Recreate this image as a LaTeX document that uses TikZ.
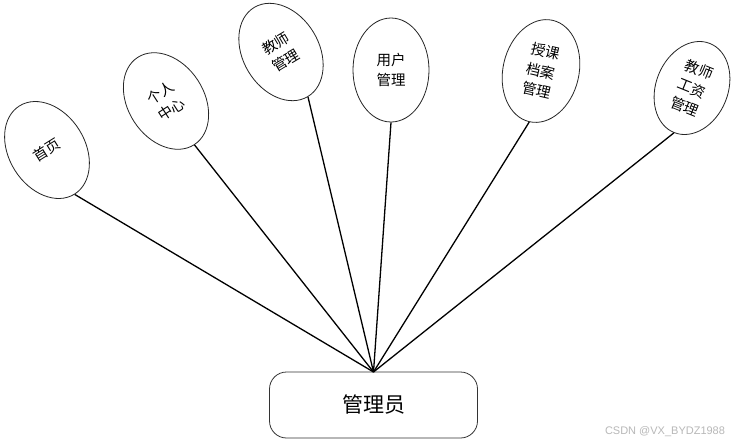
\documentclass[tikz,border=0pt]{standalone}
\usepackage{fontspec}
\setmainfont{Noto Sans CJK SC}
\newfontfamily\wmfont{Liberation Sans}
\usetikzlibrary{shapes.geometric}
\begin{document}
\begin{tikzpicture}[x=1pt,y=-1pt,
  func/.style={draw=black!85,line width=0.8pt,ellipse,minimum width=76pt,minimum height=104pt,inner sep=0pt,align=center,font=\fontsize{14.5}{20}\selectfont,fill=white},
  link/.style={line width=1.3pt,black},
  rolebox/.style={draw=black!80,line width=0.8pt,rounded corners=17pt,minimum width=208pt,minimum height=66pt,inner sep=0pt,font=\fontsize{21}{24}\selectfont}]
\useasboundingbox (0,0) rectangle (747,445);
\fill[white] (0,0) rectangle (747,445);
\node[rolebox] (admin) at (373.5,405) {管理员};
\coordinate (hub) at (373.5,372);
\node[func,rotate=32] (f1) at (47,150) {首页};
\node[func,rotate=33] (f2) at (166,101) {个人\\中心};
\node[func,rotate=31] (f3) at (281,52) {教师\\管理};
\node[func] (f4) at (391,70) {用户\\管理};
\node[func,rotate=-13] (f5) at (541,71) {授课\\档案\\管理};
\node[func,rotate=-22,minimum width=72pt,minimum height=96pt] (f6) at (692,88) {教师\\工资\\管理};
\foreach \n in {f1,f2,f3,f4,f5,f6} \draw[link] (\n.south) -- (hub);
\node[text=black!28,font=\wmfont\fontsize{11}{13}\selectfont,inner sep=0pt] (wm) at (665,432) {CSDN @VX\_BYDZ1988};
\end{tikzpicture}
\end{document}
